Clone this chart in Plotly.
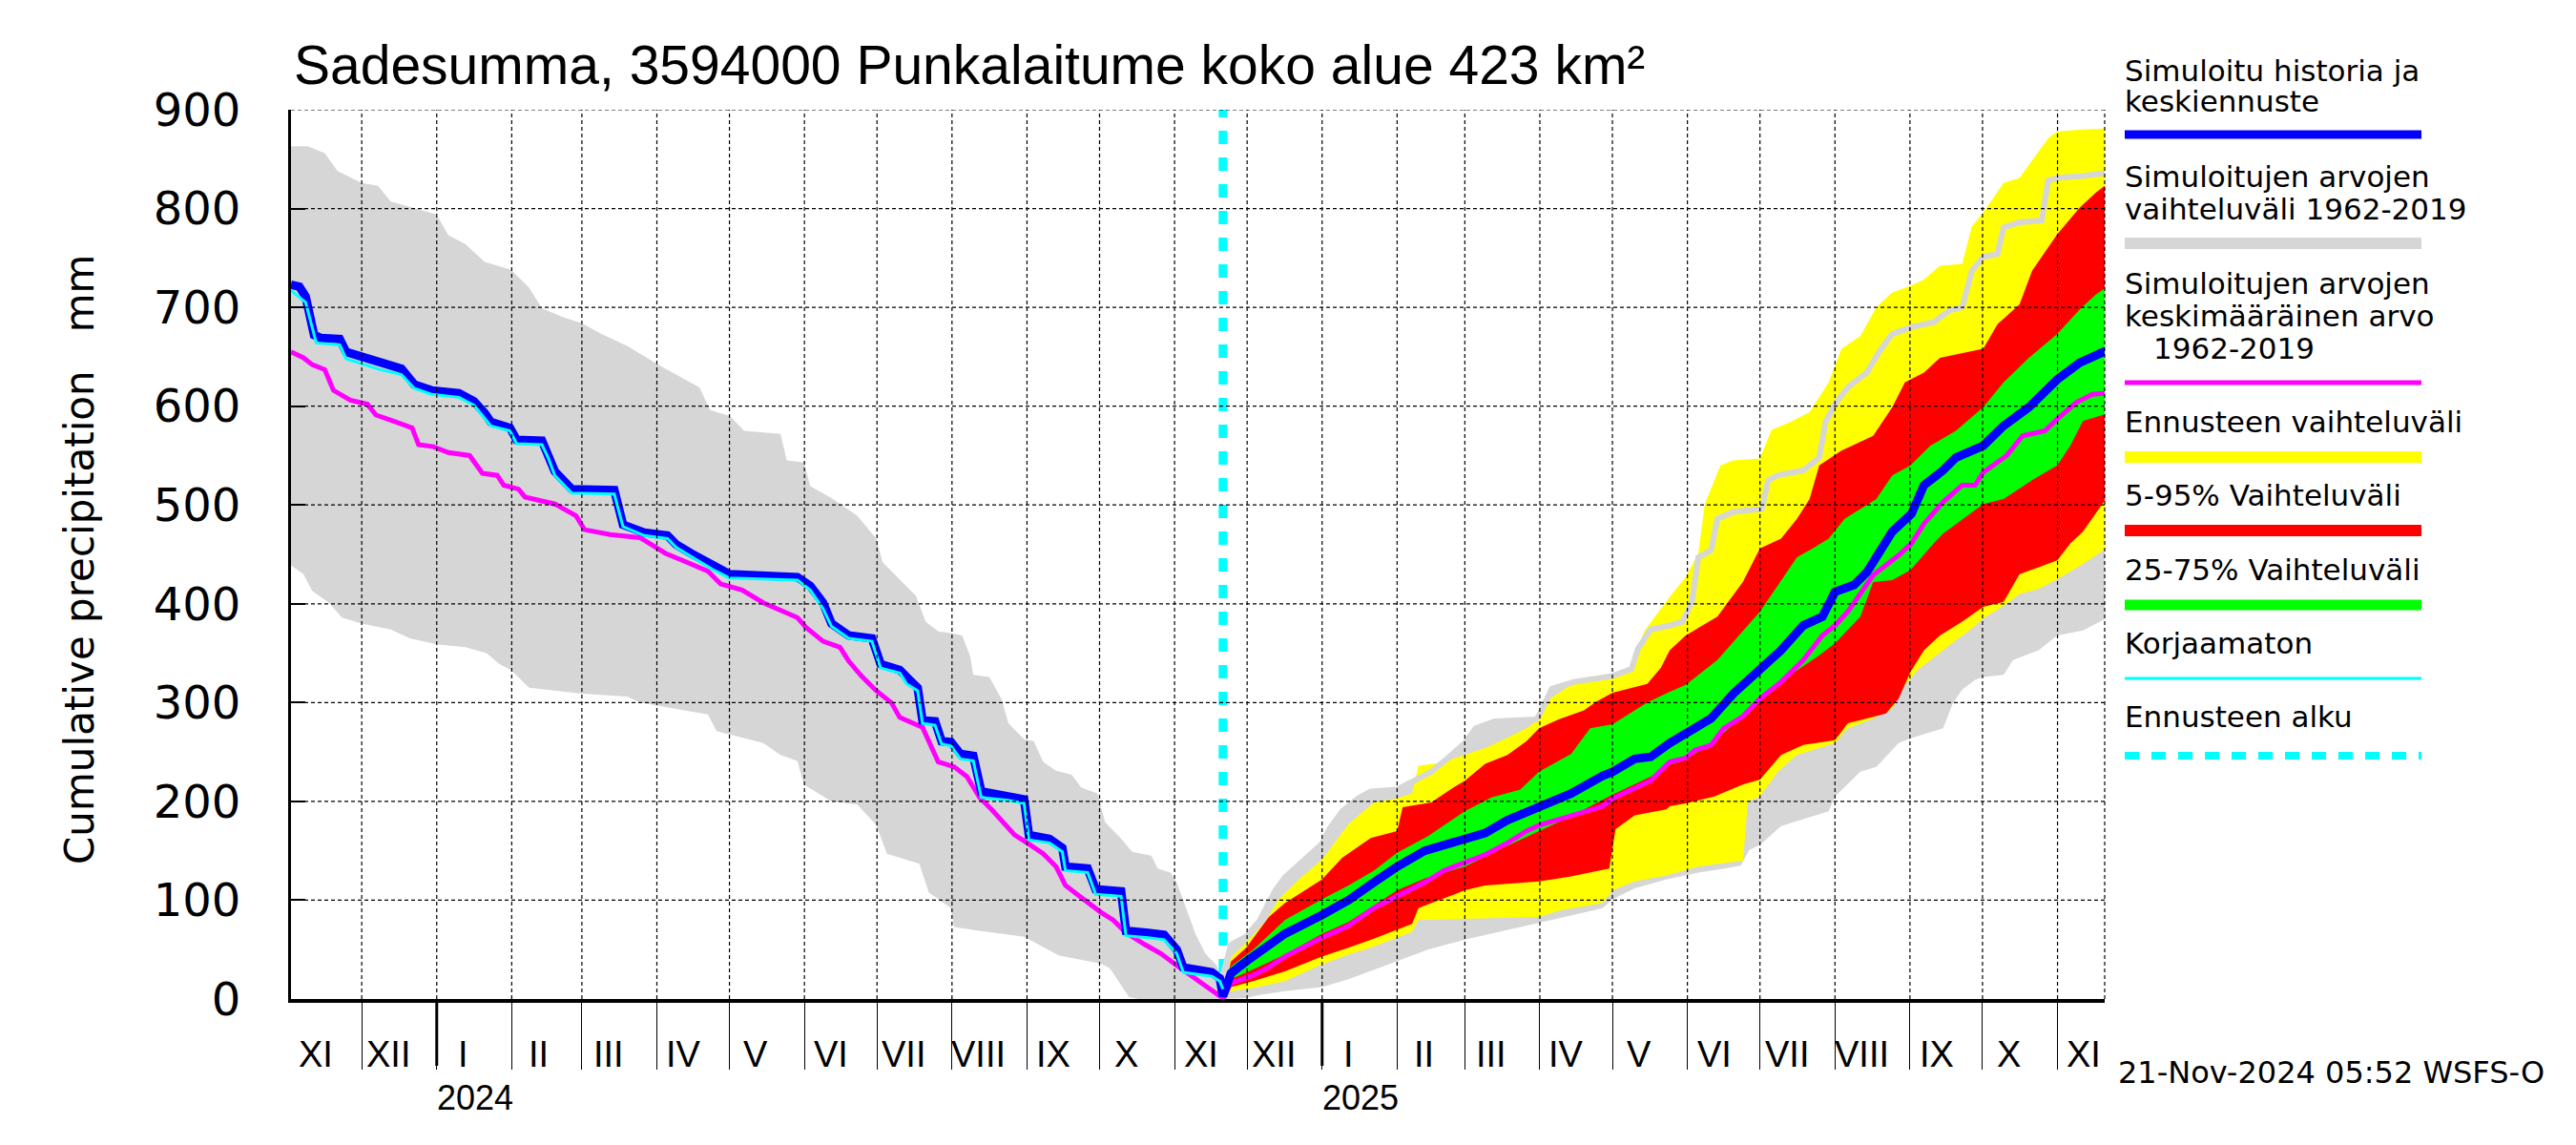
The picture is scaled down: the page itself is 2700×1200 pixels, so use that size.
import plotly.graph_objects as go
import pandas as pd

# ---------------- data (day offsets relative to forecast start, values in mm) ----------------
FORECAST_START = "2024-11-21"
X_START = "2023-11-01T18:00"
X_END = "2025-11-20T12:00"

GREY_UP_DAYS = [-385.3, -378.3, -371.3, -366.0, -356.1, -349.3, -344.0, -334.3, -325.1, -320.2, -313.2, -305.2,
                -294.3, -286.8, -281.5, -272.7, -265.1, -256.9, -246.3, -234.1, -225.2, -216.4, -212.0, -203.9,
                -197.9, -182.9, -180.3, -173.2, -170.6, -161.8, -151.2, -143.3, -140.7, -130.8, -126.9, -122.9,
                -117.7, -112.0, -107.8, -104.5, -103.2, -96.6, -91.4, -88.7, -82.2, -78.2, -74.3, -69.0, -62.5,
                -58.5, -51.9, -48.7, -42.7, -37.5, -29.6, -27.0, -21.7, -19.1, -15.1, -11.2, -7.3, -2.6, -0.7, 0,
                0.6, 3.3, 9.6, 15.1, 21.7, 25.6, 32.2, 40.9, 44.0, 49.3, 55.8, 61.1, 72.0, 79.5, 86.1, 92.6, 100.0,
                104.5, 112.4, 129.4, 130.7, 136.0, 145.2, 161.1, 168.9, 171.5, 176.8, 184.7, 190.0, 193.9, 196.5,
                201.8, 204.4, 211.0, 222.8, 225.4, 229.4, 239.9, 246.5, 249.1, 253.0, 258.3, 266.2, 271.5, 276.7,
                284.6, 293.8, 300.4, 305.6, 309.6, 314.3, 320.2, 322.7, 329.3, 338.5, 341.1, 344.9, 355.5, 365.0]
GREY_UP_VALS = [863, 863, 856, 838, 826, 823, 807, 800, 794, 773, 764, 746,
                738, 720, 699, 690, 684, 673, 661, 643, 631, 619, 596, 590,
                575, 572, 545, 543, 519, 507, 489, 466, 442, 418, 408, 382,
                372, 370, 368, 347, 328, 326, 303, 279, 263, 261, 240, 231, 227,
                214, 208, 179, 164, 149, 145, 132, 128, 118, 92, 65, 46, 34, 19, 0,
                30, 55, 63, 79, 110, 123, 137, 157, 172, 190, 203, 210, 212, 221, 230, 243, 259,
                274, 281, 283, 287, 314, 321, 327, 334, 354, 374, 378, 382, 402, 447,
                454, 486, 493, 496, 525, 530, 535, 548, 584, 602, 619, 634, 656, 673,
                680, 685, 697, 700, 737, 751, 754, 781, 786, 788, 828, 831, 833, 836]

GREY_LO_DAYS = [-385.3, -380.1, -376.5, -369.5, -364.2, -356.1, -344.0, -336.1, -325.1, -313.2, -304.4, -299.1,
                -294.3, -286.8, -265.1, -246.3, -241.0, -234.1, -212.9, -209.3, -203.9, -190.0, -182.9, -175.9,
                -173.2, -161.8, -151.2, -143.3, -138.9, -130.8, -125.5, -121.6, -112.4, -111.1, -100.6, -82.2,
                -67.7, -50.6, -46.7, -38.8, -34.9, 0,
                9.6, 15.1, 25.6, 40.9, 51.9, 58.5, 72.0, 84.7, 100.0, 117.6, 130.7, 141.3, 157.0, 161.1, 170.2,
                183.3, 196.5, 205.0, 214.0, 217.6, 222.0, 230.7, 250.4, 253.0, 263.5, 270.1, 279.3, 284.6, 297.7,
                301.7, 305.6, 310.9, 314.3, 322.7, 326.6, 337.2, 344.9, 355.5, 365.0]
GREY_LO_VALS = [439, 430, 413, 401, 386, 380, 374, 365, 359, 356, 350, 339,
                333, 315, 309, 306, 300, 297, 288, 271, 268, 259, 247, 241,
                217, 200, 197, 176, 147, 141, 137, 108, 92, 73, 69, 63,
                44, 36, 31, 2, 0, 0,
                1, 4, 8, 12, 20, 26, 38, 50, 60, 70, 77, 83, 92, 101, 112,
                121, 128, 131, 135, 151, 156, 175, 190, 205, 230, 235, 259, 264, 274,
                299, 313, 323, 326, 328, 343, 353, 368, 373, 385]

YELLOW_UP_DAYS = [0, 3.3, 9.6, 17.7, 23.0, 32.2, 40.9, 51.9, 62.4, 72.0, 78.2, 80.8, 90.0, 100.0, 108.4, 116.3,
                  125.5, 130.7, 133.4, 143.9, 161.1, 168.9, 174.1, 182.0, 184.7, 191.3, 196.5, 199.2, 205.7, 211.0,
                  222.0, 226.8, 234.6, 242.5, 250.4, 255.7, 263.5, 270.1, 276.7, 284.6, 289.8, 296.4, 305.6, 309.6,
                  314.3, 322.7, 329.3, 341.1, 344.9, 355.5, 365.0]
YELLOW_UP_VALS = [0, 42, 57, 79, 101, 123, 141, 177, 199, 203, 208, 236, 239, 247, 254, 263,
                  274, 283, 301, 318, 327, 336, 372, 398, 407, 427, 451, 501, 540, 545,
                  547, 576, 584, 594, 624, 658, 671, 700, 715, 722, 728, 742, 744, 782,
                  796, 826, 831, 871, 878, 880, 881]

YELLOW_LO_DAYS = [0, 3.3, 12.5, 25.6, 40.9, 51.9, 62.4, 72.0, 78.2, 80.8, 100.0, 130.7, 140.0, 157.0, 161.1, 170.2,
                  183.3, 196.5, 205.0, 215.0, 217.0, 222.0, 229.4, 237.3, 253.0, 258.3, 268.8, 276.7, 282.0, 287.2,
                  297.7, 303.0, 309.6, 314.3, 324.0, 329.3, 337.2, 344.9, 355.5, 365.0]
YELLOW_LO_VALS = [0, 8, 11, 18, 35, 45, 53, 62, 68, 80, 81, 83, 90, 97, 110, 119,
                  125, 134, 137, 140, 200, 205, 230, 247, 259, 274, 284, 294, 318, 333,
                  353, 363, 375, 385, 400, 410, 415, 425, 440, 456]

RED_UP_DAYS = [0, 3.3, 9.6, 19.0, 25.6, 37.4, 40.9, 49.3, 61.1, 72.0, 74.3, 86.1, 94.0, 100.0, 108.4, 117.6, 125.5,
               130.7, 138.7, 149.2, 154.4, 161.1, 175.4, 181.0, 184.7, 191.3, 204.4, 214.9, 222.0, 230.7, 237.3,
               242.5, 246.5, 255.7, 268.8, 276.7, 281.9, 289.8, 296.4, 314.3, 320.2, 329.3, 334.5, 344.9, 354.2,
               360.8, 365.0]
RED_UP_VALS = [0, 38, 52, 83, 97, 115, 121, 143, 163, 170, 194, 199, 212, 221, 238, 247, 261,
               274, 283, 292, 301, 310, 319, 335, 353, 368, 387, 422, 456, 466, 486,
               506, 540, 555, 570, 599, 624, 634, 649, 658, 683, 703, 737, 774, 801,
               816, 824]

RED_LO_DAYS = [0, 3.3, 12.5, 25.6, 40.9, 51.9, 62.4, 72.0, 78.2, 80.8, 86.1, 100.0, 108.4, 130.7, 143.9, 159.7,
               162.3, 170.2, 183.3, 184.7, 191.3, 203.1, 214.9, 222.0, 230.7, 239.9, 253.0, 258.3, 266.2, 274.1,
               279.3, 284.2, 289.8, 296.4, 305.6, 314.3, 322.7, 329.3, 337.2, 344.9, 350.3, 355.5, 365.0]
RED_LO_VALS = [0, 12, 18, 28, 43, 52, 61, 70, 76, 92, 97, 110, 115, 119, 124, 132,
               172, 186, 192, 195, 198, 205, 217, 222, 247, 257, 262, 279, 284, 289,
               304, 331, 353, 368, 382, 397, 402, 430, 437, 444, 461, 473, 506]

GREEN_UP_DAYS = [0, 3.3, 12.5, 25.6, 40.9, 51.9, 62.4, 72.0, 84.8, 100.0, 111.0, 122.9, 130.7, 143.9, 151.8, 161.1,
                 175.4, 184.7, 191.3, 204.4, 222.0, 237.3, 243.8, 250.4, 257.0, 270.1, 276.7, 284.2, 292.5, 303.0,
                 314.3, 322.7, 333.2, 344.9, 354.2, 360.8, 365.0]
GREEN_UP_VALS = [0, 33, 50, 80, 101, 115, 130, 148, 165, 190, 204, 212, 230, 248, 274, 278,
                 300, 311, 318, 343, 392, 447, 456, 466, 486, 506, 530, 540, 560, 575,
                 599, 624, 649, 673, 698, 713, 720]

GREEN_LO_DAYS = [0, 3.3, 12.5, 25.6, 40.9, 51.9, 62.4, 72.0, 83.4, 100.0, 115.0, 130.7, 143.9, 161.1, 176.8, 184.7,
                 191.3, 204.4, 222.0, 234.6, 246.5, 253.0, 263.5, 268.8, 276.7, 284.2, 293.8, 297.7, 314.3, 322.7,
                 334.5, 344.9, 350.3, 355.5, 365.0]
GREEN_LO_VALS = [0, 20, 30, 45, 66, 78, 95, 110, 122, 134, 152, 170, 185, 207, 225, 237,
                 242, 264, 301, 328, 348, 360, 387, 422, 424, 434, 461, 471, 501, 506,
                 525, 540, 560, 585, 592]

BLUE_DAYS = [-385.3, -381.8, -379.2, -375.7, -373.0, -365.1, -362.5, -356.1, -348.4, -339.6, -334.3, -327.2, -315.8,
             -309.6, -305.2, -302.6, -294.7, -292.0, -281.5, -278.8, -276.2, -269.2, -251.6, -248.0, -239.2, -229.6,
             -226.0, -219.9, -211.1, -204.0, -175.9, -170.6, -165.3, -161.8, -154.7, -145.1, -141.5, -133.6, -130.8,
             -126.2, -124.2, -119.0, -116.3, -112.4, -108.5, -103.2, -99.9, -88.7, -82.2, -80.2, -71.7, -66.4, -65.1,
             -55.9, -52.6, -42.1, -40.1, -30.9, -24.3, -19.1, -16.4, -4.6, -1.3, 0,
             3.3, 9.6, 19.0, 25.6, 40.9, 51.9, 62.4, 72.0, 83.4, 100.0, 108.4, 117.6, 130.7, 143.9, 157.0, 161.1,
             170.2, 176.8, 184.7, 191.3, 201.8, 211.0, 222.0, 230.7, 239.9, 247.8, 253.0, 260.9, 266.2, 276.7,
             284.6, 289.8, 297.7, 303.0, 314.3, 322.7, 333.2, 342.4, 344.9, 354.2, 365.0]
BLUE_VALS = [723, 721, 711, 672, 669, 668, 655, 650, 643, 638, 622, 616, 613,
             605, 593, 584, 578, 566, 565, 551, 534, 516, 515, 480, 472, 469,
             460, 451, 439, 430, 427, 418, 401, 380, 368, 365, 339, 333, 326,
             315, 282, 281, 261, 260, 248, 246, 210, 206, 202, 166, 162, 153, 134,
             132, 111, 109, 69, 67, 65, 50, 32, 27, 21, 3,
             26, 38, 55, 66, 85, 100, 118, 134, 150, 163, 168, 181, 194, 208, 226, 230,
             243, 245, 259, 269, 284, 309, 333, 353, 378, 387, 412, 419, 432, 473,
             491, 520, 535, 548, 560, 580, 599, 619, 627, 644, 656]

CYAN_DAYS = [-385.3, -379.2, -374.8, -365.1, -362.5, -348.4, -339.6, -334.3, -327.2, -315.8, -309.6, -305.2, -302.6,
             -294.7, -292.0, -281.5, -278.8, -276.2, -269.2, -251.6, -248.0, -239.2, -229.6, -226.0, -219.9, -211.1,
             -204.0, -175.9, -170.6, -165.3, -161.8, -154.7, -145.1, -141.5, -133.6, -130.8, -126.2, -124.2, -119.0,
             -116.3, -112.4, -108.5, -103.2, -99.9, -88.7, -82.2, -80.2, -71.7, -66.4, -65.1, -55.9, -52.6, -42.1,
             -40.1, -30.9, -24.3, -19.1, -16.4, -4.6, -1.3, 0]
CYAN_VALS = [717, 705, 664, 662, 648, 637, 632, 618, 612, 609, 601, 588, 580,
             575, 562, 561, 547, 530, 512, 511, 478, 469, 466, 457, 448, 435,
             426, 424, 414, 395, 377, 365, 362, 335, 330, 319, 312, 279, 277,
             258, 256, 243, 241, 204, 201, 198, 161, 158, 149, 130, 128, 106, 104,
             64, 62, 60, 46, 27, 23, 18, 10]

MAGENTA_DAYS = [-385.3, -380.1, -376.5, -371.3, -367.7, -360.7, -353.7, -350.1, -343.1, -335.2, -332.5, -326.4,
                -320.2, -311.4, -306.1, -300.0, -297.3, -291.2, -288.5, -276.2, -267.4, -263.9, -253.3, -241.0,
                -235.7, -230.4, -221.6, -212.9, -207.6, -198.8, -190.0, -181.2, -175.9, -172.3, -165.3, -158.3,
                -154.7, -149.5, -143.3, -137.1, -133.6, -130.8, -124.2, -117.7, -111.1, -105.8, -100.6, -95.3,
                -86.1, -80.9, -74.3, -69.0, -65.1, -59.8, -54.6, -50.6, -45.4, -40.1, -32.2, -25.7, -19.1, -12.5,
                -5.9, -0.7, 0,
                3.3, 12.5, 19.0, 25.6, 40.9, 51.9, 62.4, 72.0, 83.4, 91.3, 100.0, 108.4, 117.6, 125.5, 130.7,
                143.9, 157.0, 161.1, 170.2, 176.8, 184.7, 191.3, 195.2, 201.8, 207.0, 214.9, 222.0, 230.7, 239.9,
                247.8, 253.0, 258.3, 268.8, 279.3, 284.6, 289.8, 297.7, 305.6, 310.9, 314.3, 324.0, 330.6, 339.8,
                344.9, 352.9, 359.5, 365.0]
MAGENTA_VALS = [655, 649, 642, 637, 616, 606, 602, 591, 585, 578, 561, 559,
                553, 550, 532, 530, 520, 516, 508, 501, 489, 475, 470, 467,
                459, 451, 442, 433, 420, 414, 401, 392, 386, 376, 362, 356,
                342, 327, 312, 300, 285, 282, 275, 240, 235, 225, 204, 191,
                166, 158, 147, 134, 115, 105, 95, 88, 80, 67, 55, 46, 34, 23,
                11, 2, 0,
                16, 24, 32, 43, 62, 74, 92, 104, 118, 130, 138, 146, 158, 170, 176,
                186, 195, 203, 214, 221, 240, 244, 252, 257, 274, 286, 304, 321, 343,
                368, 378, 392, 429, 449, 461, 481, 503, 520, 520, 533, 550, 570, 575,
                587, 604, 612, 613]

Y_TICKS = [0, 100, 200, 300, 400, 500, 600, 700, 800, 900]
ROMAN = ["I", "II", "III", "IV", "V", "VI", "VII", "VIII", "IX", "X", "XI", "XII"]
YEAR_LABELS = ["2024", "2025"]

TITLE = "Sadesumma, 3594000 Punkalaitume koko alue 423 km²"
Y_TITLE = "Cumulative precipitation\u00a0\u00a0\u00a0mm"
STAMP = "21-Nov-2024 05:52 WSFS-O"

C_GREY = "#d6d6d6"
C_YELLOW = "#ffff00"
C_RED = "#ff0000"
C_GREEN = "#00ff00"
C_BLUE = "#0000ff"
C_MAGENTA = "#ff00ff"
C_CYAN = "#00ffff"

# ---------------- layout geometry (pixels) ----------------
W, H = 2700, 1200
L, R, T, B = 305, 2206, 115, 1047
PW, PH = R - L, B - T


def px(x):
    return (x - L) / PW


def py(y):
    return (B - y) / PH


base = pd.Timestamp(FORECAST_START)


def dates(days):
    return list(base + pd.to_timedelta(days, unit="D"))


def band(up_d, up_v, lo_d, lo_v, color, name):
    xs = dates(up_d) + dates(lo_d)[::-1]
    ys = list(up_v) + list(lo_v)[::-1]
    return go.Scatter(x=xs, y=ys, fill="toself", fillcolor=color, mode="lines",
                      line=dict(width=0, color=color), name=name, hoverinfo="skip", showlegend=False)


fig = go.Figure()
fig.add_trace(band(GREY_UP_DAYS, GREY_UP_VALS, GREY_LO_DAYS, GREY_LO_VALS, C_GREY, "grey"))
fig.add_trace(band(YELLOW_UP_DAYS, YELLOW_UP_VALS, YELLOW_LO_DAYS, YELLOW_LO_VALS, C_YELLOW, "yellow"))
fig.add_trace(band(RED_UP_DAYS, RED_UP_VALS, RED_LO_DAYS, RED_LO_VALS, C_RED, "red"))
fig.add_trace(band(GREEN_UP_DAYS, GREEN_UP_VALS, GREEN_LO_DAYS, GREEN_LO_VALS, C_GREEN, "green"))

# upper edge of the simulated range after the forecast start, drawn as a line
gi = [i for i, d in enumerate(GREY_UP_DAYS) if d >= 0]
fig.add_trace(go.Scatter(x=dates([GREY_UP_DAYS[i] for i in gi]), y=[GREY_UP_VALS[i] for i in gi],
                         mode="lines", line=dict(color=C_GREY, width=6), showlegend=False))
fig.add_trace(go.Scatter(x=dates(MAGENTA_DAYS), y=MAGENTA_VALS, mode="lines",
                         line=dict(color=C_MAGENTA, width=5), showlegend=False))
fig.add_trace(go.Scatter(x=dates(BLUE_DAYS), y=BLUE_VALS, mode="lines",
                         line=dict(color=C_BLUE, width=9), showlegend=False))
fig.add_trace(go.Scatter(x=dates(CYAN_DAYS), y=CYAN_VALS, mode="lines",
                         line=dict(color=C_CYAN, width=3), showlegend=False))

months = pd.date_range("2023-12-01", "2025-11-01", freq="MS")
label_months = pd.date_range("2023-11-01", "2025-11-01", freq="MS")

shapes = []
# forecast start line
shapes.append(dict(type="line", xref="x", yref="y", x0=base, x1=base, y0=0, y1=Y_TICKS[-1],
                   line=dict(color=C_CYAN, width=9, dash="14px,14px"), layer="below"))
# dashed grid drawn above the coloured areas
for m in months:
    shapes.append(dict(type="line", xref="x", yref="y", x0=m, x1=m, y0=0, y1=Y_TICKS[-1],
                       line=dict(color="black", width=1.2, dash="4px,3px"), layer="above"))
shapes.append(dict(type="line", xref="paper", yref="y", x0=1, x1=1, y0=0, y1=Y_TICKS[-1],
                   line=dict(color="black", width=1.2, dash="4px,3px"), layer="above"))
for v in Y_TICKS[1:]:
    shapes.append(dict(type="line", xref="paper", yref="y", x0=0, x1=1, y0=v, y1=v,
                       line=dict(color="black", width=1.2, dash="4px,3px"), layer="above"))
# heavier year ticks
for m in months:
    if m.month == 1:
        shapes.append(dict(type="line", xref="x", yref="paper", x0=m, x1=m, y0=0, y1=-70 / PH,
                           line=dict(color="black", width=3), layer="above"))

annotations = []
annotations.append(dict(text=TITLE, x=px(306), y=py(68), xref="paper", yref="paper", xanchor="left",
                        yanchor="middle", showarrow=False,
                        font=dict(family="Liberation Sans, Arial", size=57, color="black")))
annotations.append(dict(text=Y_TITLE, x=px(83), y=py(586), xref="paper", yref="paper", xanchor="center",
                        yanchor="middle", showarrow=False, textangle=-90,
                        font=dict(family="DejaVu Sans", size=42, color="black")))
for m in label_months:
    annotations.append(dict(text=ROMAN[m.month - 1], x=m + pd.Timedelta(days=11), y=py(1105), xref="x",
                            yref="paper", xanchor="center", yanchor="middle", showarrow=False,
                            font=dict(family="Liberation Sans, Arial", size=38, color="black")))
for yl in YEAR_LABELS:
    annotations.append(dict(text=yl, x=pd.Timestamp(yl + "-01-17"), y=py(1150), xref="x", yref="paper",
                            xanchor="center", yanchor="middle", showarrow=False,
                            font=dict(family="Liberation Sans, Arial", size=36, color="black")))

# legend block
LEG_X0, LEG_X1 = 2227, 2538
legend_text = [
    ("Simuloitu historia ja", 2225, 74), ("keskiennuste", 2225, 106),
    ("Simuloitujen arvojen", 2225, 185), ("vaihteluväli 1962-2019", 2225, 219),
    ("Simuloitujen arvojen", 2225, 297), ("keskimääräinen arvo", 2225, 331), ("1962-2019", 2255, 365),
    ("Ennusteen vaihteluväli", 2225, 442),
    ("5-95% Vaihteluväli", 2225, 519),
    ("25-75% Vaihteluväli", 2225, 597),
    ("Korjaamaton", 2225, 674),
    ("Ennusteen alku", 2225, 751),
]
for txt, x, y in legend_text:
    annotations.append(dict(text=txt, x=px(x), y=py(y), xref="paper", yref="paper", xanchor="left",
                            yanchor="middle", showarrow=False,
                            font=dict(family="DejaVu Sans", size=31, color="black")))
legend_bars = [(141, C_BLUE, 9, "solid"), (255, C_GREY, 12, "solid"), (401, C_MAGENTA, 5, "solid"),
               (479, C_YELLOW, 12, "solid"), (556, C_RED, 12, "solid"), (634, C_GREEN, 11, "solid"),
               (711, C_CYAN, 3, "solid"), (792, C_CYAN, 8, "15px,13px")]
for y, c, w, d in legend_bars:
    shapes.append(dict(type="line", xref="paper", yref="paper", x0=px(LEG_X0), x1=px(LEG_X1), y0=py(y), y1=py(y),
                       line=dict(color=c, width=w, dash=d)))
annotations.append(dict(text=STAMP, x=px(2218), y=py(1124), xref="paper", yref="paper", xanchor="left",
                        yanchor="middle", showarrow=False,
                        font=dict(family="DejaVu Sans", size=32, color="black")))

fig.update_layout(
    width=W, height=H, autosize=False,
    margin=dict(l=L, r=W - R, t=T, b=H - B, pad=0),
    paper_bgcolor="white", plot_bgcolor="white",
    showlegend=False,
    shapes=shapes, annotations=annotations,
    xaxis=dict(type="date", range=[X_START, X_END], tickvals=list(months), showticklabels=False,
               ticks="outside", ticklen=70, tickwidth=1, tickcolor="black",
               showline=True, linewidth=4, linecolor="black", showgrid=False, zeroline=False),
    yaxis=dict(range=[0, 900], tickvals=Y_TICKS, ticks="inside", ticklen=15, tickwidth=2, tickcolor="black",
               showline=True, linewidth=3, linecolor="black", showgrid=False, zeroline=False,
               tickfont=dict(family="DejaVu Sans", size=48, color="black"), ticklabelstandoff=40),
)

fig.write_html("out.html", config={"displayModeBar": False},
               post_script="document.body.style.margin='0px';")
